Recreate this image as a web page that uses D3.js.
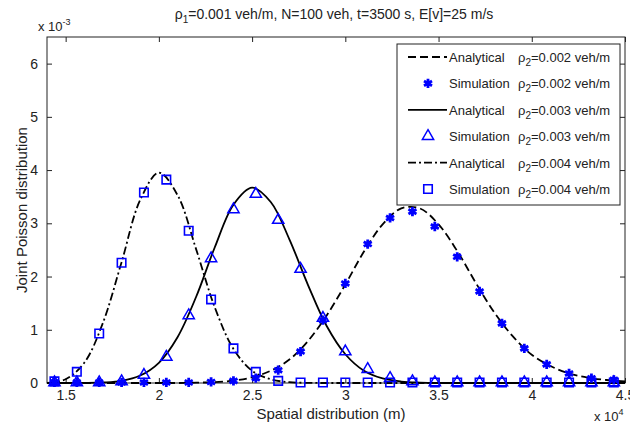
<!DOCTYPE html>
<html>
<head>
<meta charset="utf-8">
<script src="https://cdn.jsdelivr.net/npm/d3@7"></script>
<style>
  body { margin: 0; background: #fff; }
  text { font-family: "Liberation Sans", Arial, sans-serif; fill: #222; }
</style>
</head>
<body>
<div id="chart"></div>
<script>
// values (y in units of 1e-3)
var anaX = [14000, 15000, 16000, 17000, 18000, 19000, 20000, 21000, 22000, 23000, 24000,
            25000, 26000, 27000, 28000, 29000, 30000, 31000, 32000, 33000, 34000, 35000,
            36000, 37000, 38000, 39000, 40000, 41000, 42000, 43000, 44000, 45000];
var ana002 = [0, 0, 0, 0, 0, 0, 0, 0, 0.006, 0.017, 0.045, 0.106, 0.23, 0.44, 0.79, 1.27,
              1.85, 2.47, 2.98, 3.28, 3.28, 2.98, 2.48, 1.88, 1.32, 0.87, 0.53, 0.32, 0.18, 0.10, 0.056, 0.03];
var ana003 = [0, 0, 0.002, 0.01, 0.04, 0.14, 0.38, 0.86, 1.62, 2.55, 3.35, 3.67, 3.40, 2.70,
              1.84, 1.07, 0.54, 0.23, 0.085, 0.027, 0.007, 0, 0, 0, 0, 0, 0, 0, 0, 0, 0, 0];
var ana004 = [0, 0.07, 0.38, 1.13, 2.27, 3.44, 3.95, 3.53, 2.51, 1.42, 0.64, 0.23, 0.07, 0.015,
              0.003, 0, 0, 0, 0, 0, 0, 0, 0, 0, 0, 0, 0, 0, 0, 0, 0, 0];

var simX = [14400, 15600, 16800, 18000, 19200, 20400, 21600, 22800, 24000, 25200, 26400, 27600, 28800,
            30000, 31200, 32400, 33600, 34800, 36000, 37200, 38400, 39600, 40800, 42000, 43200, 44400];
var sim002 = [0.01, 0.01, 0.01, 0.01, 0.01, 0.01, 0.01, 0.02, 0.04, 0.09, 0.24, 0.59, 1.18,
              1.87, 2.61, 3.10, 3.22, 2.94, 2.37, 1.72, 1.12, 0.65, 0.35, 0.18, 0.09, 0.06];
var sim003 = [0.01, 0.01, 0.01, 0.03, 0.15, 0.49, 1.27, 2.34, 3.26, 3.55, 3.06, 2.14, 1.22,
              0.59, 0.26, 0.09, 0.03, 0.01, 0.01, 0.01, 0.01, 0.01, 0.01, 0.01, 0.01, 0.01];
var sim004 = [0.03, 0.21, 0.93, 2.26, 3.58, 3.82, 2.86, 1.57, 0.65, 0.21, 0.04, 0.01, 0.01,
              0.01, 0.01, 0.01, 0.01, 0.01, 0.01, 0.01, 0.01, 0.01, 0.01, 0.01, 0.01, 0.01];

var xTicks = [15000, 20000, 25000, 30000, 35000, 40000, 45000];
var xTickLabels = ["1.5", "2", "2.5", "3", "3.5", "4", "4.5"];
var yTicks = [0, 1, 2, 3, 4, 5, 6];

var legendRows = ["0.002", "0.002", "0.003", "0.003", "0.004", "0.004"];
var legendKinds = ["Analytical", "Simulation", "Analytical", "Simulation", "Analytical", "Simulation"];

var W = 630, H = 425;
var margin = {top: 37, right: 5, bottom: 42, left: 47};
var width = W - margin.left - margin.right,
    height = H - margin.top - margin.bottom;

var svg = d3.select("#chart").append("svg")
    .attr("width", W)
    .attr("height", H);

var g = svg.append("g")
    .attr("transform", "translate(" + margin.left + "," + margin.top + ")");

var x = d3.scaleLinear().domain([14000, 45000]).range([0, width]);
var y = d3.scaleLinear().domain([0, 6.5]).range([height, 0]);

g.append("clipPath").attr("id", "clip")
    .append("rect").attr("width", width).attr("height", height + 2).attr("y", -1);

// axes, ticks pointing inward
var axB = g.append("g").attr("transform", "translate(0," + height + ")")
    .call(d3.axisBottom(x).tickValues(xTicks).tickSizeInner(-5).tickSizeOuter(0).tickPadding(7)
        .tickFormat(function (d, i) { return xTickLabels[i]; }));
var axT = g.append("g")
    .call(d3.axisTop(x).tickValues(xTicks).tickSizeInner(-5).tickSizeOuter(0).tickFormat(""));
var axL = g.append("g")
    .call(d3.axisLeft(y).tickValues(yTicks).tickSizeInner(-5).tickSizeOuter(0).tickPadding(9)
        .tickFormat(d3.format("d")));
var axR = g.append("g").attr("transform", "translate(" + width + ",0)")
    .call(d3.axisRight(y).tickValues(yTicks).tickSizeInner(-5).tickSizeOuter(0).tickFormat(""));

[axB, axT, axL, axR].forEach(function (a) {
    a.selectAll("path").remove();
    a.selectAll("line").attr("stroke", "#222").attr("stroke-width", 1);
    a.selectAll("text").style("font-size", "14px").style("font-family", "Liberation Sans, Arial, sans-serif").attr("fill", "#222");
});

g.append("rect")
    .attr("width", width).attr("height", height)
    .attr("fill", "none").attr("stroke", "#222").attr("stroke-width", 1);

// curves
var line = d3.line()
    .x(function (d) { return x(d[0]); })
    .y(function (d) { return y(d[1]); })
    .curve(d3.curveCatmullRom.alpha(0.5));

var curves = [
    {vals: ana002, dash: "8,4"},
    {vals: ana003, dash: null},
    {vals: ana004, dash: "8,3,2,3"}
];
var plot = g.append("g").attr("clip-path", "url(#clip)");
curves.forEach(function (c) {
    plot.append("path")
        .datum(anaX.map(function (v, i) { return [v, c.vals[i]]; }))
        .attr("d", line)
        .attr("fill", "none")
        .attr("stroke", "#000")
        .attr("stroke-width", 1.8)
        .attr("stroke-dasharray", c.dash);
});

// markers
var blue = "#0000ff";
function star(sel) {
    sel.attr("d", d3.symbol().type(d3.symbolAsterisk).size(60))
        .attr("fill", "none").attr("stroke", blue).attr("stroke-width", 2.8);
}
function tri(sel) {
    sel.attr("d", d3.symbol().type(d3.symbolTriangle).size(55))
        .attr("fill", "none").attr("stroke", blue).attr("stroke-width", 1.5);
}
function sq(sel) {
    sel.attr("d", d3.symbol().type(d3.symbolSquare).size(72))
        .attr("fill", "none").attr("stroke", blue).attr("stroke-width", 1.6);
}

var sims = [{vals: sim002, fn: star}, {vals: sim003, fn: tri}, {vals: sim004, fn: sq}];
sims.forEach(function (s) {
    g.selectAll(null)
        .data(simX.map(function (v, i) { return [v, s.vals[i]]; }))
        .enter().append("path")
        .attr("transform", function (d) { return "translate(" + x(d[0]) + "," + y(d[1]) + ")"; })
        .call(s.fn);
});

// exponent labels
var e1 = svg.append("text").attr("x", 38).attr("y", 31).style("font-size", "13px");
e1.append("tspan").text("x 10");
e1.append("tspan").attr("dy", -6).style("font-size", "9px").text("-3");

var e2 = svg.append("text").attr("x", 594).attr("y", 421).style("font-size", "13px");
e2.append("tspan").text("x 10");
e2.append("tspan").attr("dy", -6).style("font-size", "9px").text("4");

// title
var t = svg.append("text").attr("x", margin.left + width / 2 - 2).attr("y", 19)
    .attr("text-anchor", "middle").style("font-size", "14px");
t.append("tspan").text("ρ");
t.append("tspan").attr("dy", 4).style("font-size", "10px").text("1");
t.append("tspan").attr("dy", -4).text("=0.001 veh/m, N=100 veh, t=3500 s, E[v]=25 m/s");

// axis titles
svg.append("text")
    .attr("x", margin.left + width / 2 - 5).attr("y", 419)
    .attr("text-anchor", "middle").style("font-size", "15px")
    .text("Spatial distribution (m)");

svg.append("text")
    .attr("transform", "translate(27," + (margin.top + height / 2) + ") rotate(-90)")
    .attr("text-anchor", "middle").style("font-size", "15px")
    .text("Joint Poisson distribution");

// legend
var lg = svg.append("g").attr("transform", "translate(397,44)");
lg.append("rect").attr("width", 223).attr("height", 161)
    .attr("fill", "#fff").attr("stroke", "#222").attr("stroke-width", 1);

var rowH = 26.4;
legendRows.forEach(function (rho, i) {
    var cy = 13 + i * rowH;
    var row = lg.append("g").attr("transform", "translate(0," + cy + ")");
    if (i % 2 === 0) {
        row.append("line").attr("x1", 11).attr("x2", 50).attr("y1", 0).attr("y2", 0)
            .attr("stroke", "#000").attr("stroke-width", 1.8)
            .attr("stroke-dasharray", curves[i / 2].dash);
    } else {
        row.append("path").attr("transform", "translate(31,0)").call(sims[(i - 1) / 2].fn);
    }
    var tx = row.append("text").attr("x", 52).attr("y", 5).style("font-size", "13px");
    tx.append("tspan").text(legendKinds[i]);
    var tr = row.append("text").attr("x", 121).attr("y", 5).style("font-size", "13px");
    tr.append("tspan").text("ρ");
    tr.append("tspan").attr("dy", 4).style("font-size", "10px").text("2");
    tr.append("tspan").attr("dy", -4).text("=" + rho + " veh/m");
});
</script>
</body>
</html>
